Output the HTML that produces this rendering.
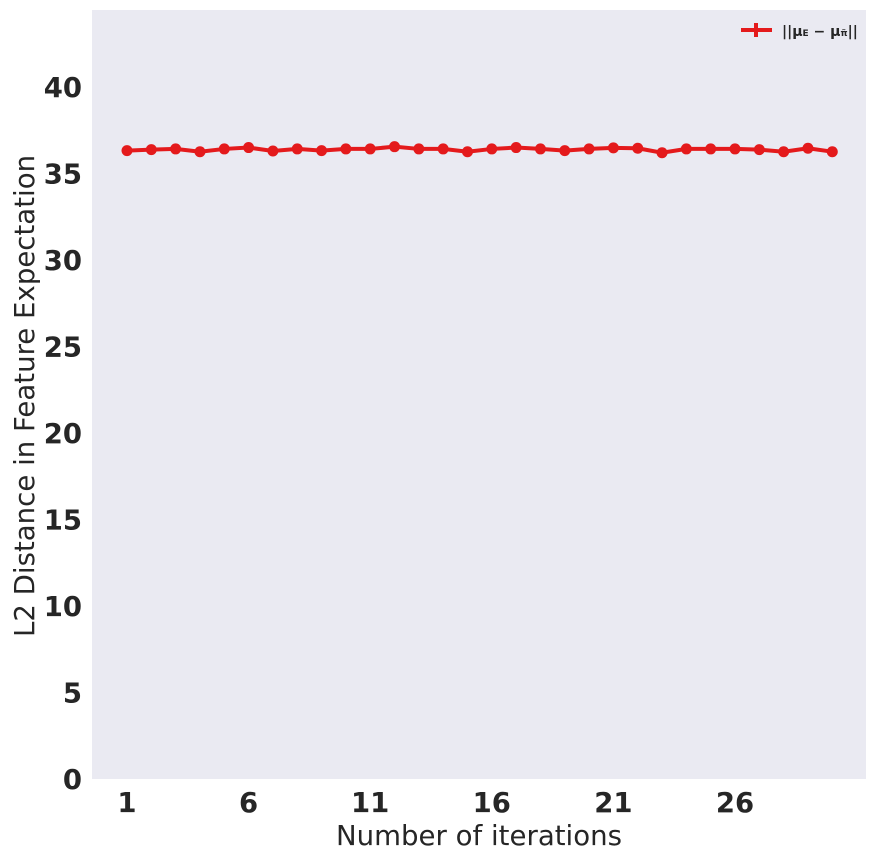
<!DOCTYPE html>
<html><head><meta charset="utf-8"><style>
body{margin:0;background:#fff;width:877px;height:861px;overflow:hidden}
svg text{font-family:"DejaVu Sans","Liberation Sans",sans-serif;fill:#262626}
</style></head><body>
<svg id="chart" width="877" height="861" xmlns="http://www.w3.org/2000/svg">
<rect x="92" y="10" width="774" height="769" fill="#eaeaf2"/>
<g id="yticks"></g><g id="xticks"></g>
<g id="series"></g>
<text x="479" y="845" font-size="27.6" text-anchor="middle">Number of iterations</text>
<text transform="translate(34,396) rotate(-90)" font-size="27.6" text-anchor="middle">L2 Distance in Feature Expectation</text>
<g>
<line x1="741" y1="30" x2="772" y2="30" stroke="#e41a1c" stroke-width="4"/>
<line x1="756" y1="23" x2="756" y2="37" stroke="#e41a1c" stroke-width="4"/>
<text x="782" y="36" font-size="14" font-weight="bold">||μ<tspan font-size="9">E</tspan> − μ<tspan font-size="9">π̃</tspan>||</text>
</g>
</svg>
<script>
const iterations=[1,2,3,4,5,6,7,8,9,10,11,12,13,14,15,16,17,18,19,20,21,22,23,24,25,26,27,28,29,30];
const distances=[36.32,36.38,36.42,36.26,36.42,36.5,36.3,36.42,36.32,36.42,36.42,36.55,36.42,36.42,36.26,36.42,36.5,36.42,36.32,36.42,36.48,36.46,36.2,36.42,36.42,36.42,36.38,36.26,36.46,36.26];
const yTicks=[0,5,10,15,20,25,30,35,40];
const xTicks=[1,6,11,16,21,26];
const ns="http://www.w3.org/2000/svg";
const xS=v=>127+(v-1)*24.32, yS=v=>779-v*17.3;
function mk(t,a,p){const e=document.createElementNS(ns,t);for(const k in a)e.setAttribute(k,a[k]);p.appendChild(e);return e;}
const yt=document.getElementById('yticks');
yTicks.forEach(v=>{const t=mk('text',{x:82,y:yS(v)+10,'font-size':27.5,'font-weight':'bold','text-anchor':'end'},yt);

t.textContent=v;});
const xt=document.getElementById('xticks');
xTicks.forEach(v=>{const t=mk('text',{x:xS(v),y:812,'font-size':27.5,'font-weight':'bold','text-anchor':'middle'},xt);

t.textContent=v;});
const s=document.getElementById('series');
const pl=mk('polyline',{points:iterations.map((x,i)=>xS(x)+','+yS(distances[i])).join(' '),fill:'none',stroke:'#e41a1c','stroke-width':4},s);


iterations.forEach((x,i)=>{const c=mk('circle',{cx:xS(x),cy:yS(distances[i]),r:5.5,fill:'#e41a1c'},s);

});
</script>
</body></html>
